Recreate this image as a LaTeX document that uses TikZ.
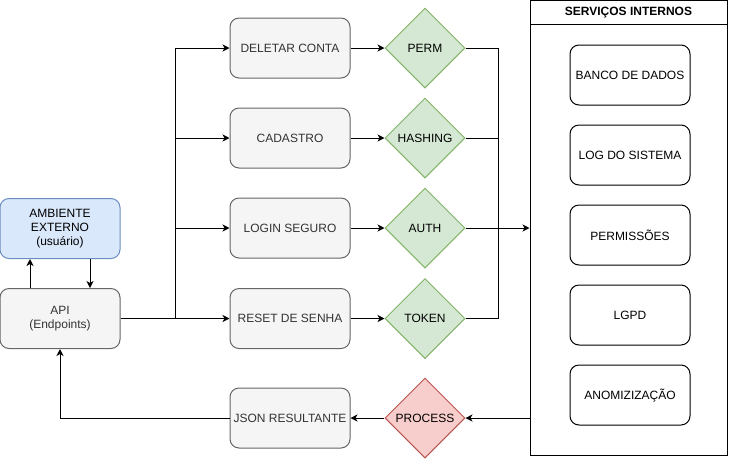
\documentclass[tikz,border=0pt]{standalone}
\usepackage{fontspec}
\setmainfont{Liberation Sans}
\usetikzlibrary{arrows.meta,shapes.geometric}

\definecolor{grayfill}{HTML}{F5F5F5}
\definecolor{graydraw}{HTML}{666666}
\definecolor{graytext}{HTML}{333333}
\definecolor{greenfill}{HTML}{D5E8D4}
\definecolor{greendraw}{HTML}{82B366}
\definecolor{redfill}{HTML}{F8CECC}
\definecolor{reddraw}{HTML}{B85450}
\definecolor{bluefill}{HTML}{DAE8FC}
\definecolor{bluedraw}{HTML}{6C8EBF}

\begin{document}
\begin{tikzpicture}[x=1pt,y=-1pt,font=\fontsize{12}{14}\selectfont]

\tikzset{box/.style = {shape=rectangle,rounded corners=9pt,draw=graydraw,fill=grayfill,text=graytext,minimum width=120pt,minimum height=60pt,inner sep=0pt,line width=1pt,align=center}}
\tikzset{check/.style = {shape=diamond,draw=greendraw,fill=greenfill,minimum width=80pt,minimum height=80pt,inner sep=0pt,line width=1pt}}
\tikzset{service/.style = {shape=rectangle,rounded corners=9pt,draw,fill=white,minimum width=120pt,minimum height=60pt,inner sep=0pt,line width=1pt}}
\tikzset{arc/.style = {-{Stealth[length=7pt,width=7pt,inset=2pt]},line width=1pt}}
\tikzset{line/.style = {line width=1pt}}

\useasboundingbox (0,0) rectangle (731,459);

% external side
\node[box,draw=bluedraw,fill=bluefill,text=black] (amb) at (60,228.5) {AMBIENTE\\EXTERNO\\(usuário)};
\node[box] (api) at (60,318.5) {API\\(Endpoints)};

% requests
\node[box] (del) at (290,48) {DELETAR CONTA};
\node[box] (cad) at (290,138) {CADASTRO};
\node[box] (log) at (290,228) {LOGIN SEGURO};
\node[box] (res) at (290,318.5) {RESET DE SENHA};
\node[box] (json) at (290,418) {JSON RESULTANTE};

% checks
\node[check] (perm) at (425,48) {PERM};
\node[check] (hash) at (425,138) {HASHING};
\node[check] (auth) at (425,228) {AUTH};
\node[check] (tok) at (425,318.5) {TOKEN};
\node[check,draw=reddraw,fill=redfill] (proc) at (425,418) {PROCESS};

% internal services
\node[draw,line width=1pt,minimum width=197pt,minimum height=455pt,inner sep=0pt] (svc) at (628.5,228) {};
\node[draw,line width=1pt,minimum width=197pt,minimum height=24pt,inner sep=0pt,font=\fontsize{12}{14}\selectfont\bfseries] (svchead) at (628.5,12.5) {SERVIÇOS INTERNOS};
\node[service] (db) at (630,75) {BANCO DE DADOS};
\node[service] (sys) at (630,155) {LOG DO SISTEMA};
\node[service] (prm) at (630,235) {PERMISSÕES};
\node[service] (lgpd) at (630,315) {LGPD};
\node[service] (anon) at (630,395) {ANOMIZIZAÇÃO};

\coordinate (split) at (175,318.5);
\coordinate (join) at (498,228);

% arcs
\draw[arc] ([xshift=-30pt]api.north) -- ([xshift=-30pt]amb.south);
\draw[arc] ([xshift=30pt]amb.south) -- ([xshift=30pt]api.north);
\draw[line] (api) -- (split);
\draw[arc] (split) |- (del);
\draw[arc] (split) |- (cad);
\draw[arc] (split) |- (log);
\draw[arc] (split) -- (res);
\draw[arc] (del) -- (perm);
\draw[arc] (cad) -- (hash);
\draw[arc] (log) -- (auth);
\draw[arc] (res) -- (tok);

% edges
\draw[line] (perm) -| (join);
\draw[line] (hash) -| (join);
\draw[line] (tok) -| (join);
\draw[arc] (auth) -- (svc);
\draw[arc] (svc.west |- proc) -- (proc);
\draw[arc] (proc) -- (json);
\draw[arc] (json) -| (api);

\end{tikzpicture}
\end{document}
